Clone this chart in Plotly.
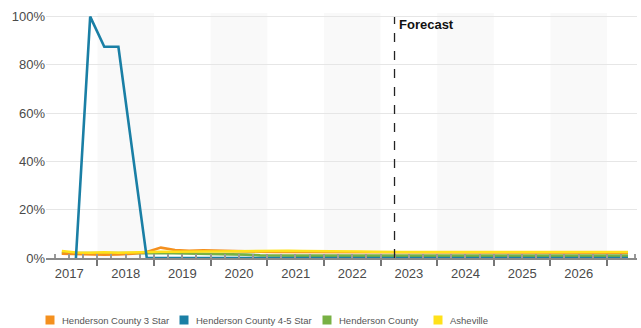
import plotly.graph_objects as go
import pandas as pd

# quarterly periods, Q2 2017 .. Q2 2027 (points at mid-quarter)
quarters = pd.period_range("2017Q2", "2027Q2", freq="Q")
dates = [(q.start_time + (q.end_time - q.start_time) / 2).strftime("%Y-%m-%d") for q in quarters]

series_names = ["Henderson County 3 Star", "Henderson County 4-5 Star", "Henderson County", "Asheville"]
colors = ["#F4901E", "#1A7FA5", "#78B144", "#FFE11A"]

hc3 = [1.8, 1.6, 1.5, 1.4, 1.5, 1.8, 2.5, 4.3, 3.3, 3.0, 3.2, 3.0, 2.7, 2.6, 2.6, 2.5,
       2.5, 2.4, 2.4, 2.3, 2.3, 2.2, 2.2, 2.2, 2.2, 2.2, 2.2, 2.2, 2.2, 2.2, 2.2, 2.2,
       2.2, 2.2, 2.2, 2.2, 2.2, 2.2, 2.2, 2.2, 2.2]
hc45 = [None, 0, 100, 87.5, 87.5, 43.75, 0, 0, 0, 0, 0, 0, 0, 0, 0, 0,
        0, 0, 0, 0, 0, 0, 0, 0, 0, 0, 0, 0, 0, 0, 0, 0,
        0, 0, 0, 0, 0, 0, 0, 0, 0]
hc = [2.0, 2.1, 2.1, 2.0, 2.0, 1.9, 2.0, 2.1, 2.0, 1.9, 1.8, 1.8, 1.7, 1.4, 1.1, 1.0,
      1.0, 1.0, 1.0, 1.0, 1.0, 1.0, 1.0, 1.0, 1.0, 1.0, 1.0, 1.0, 1.0, 1.0, 1.0, 1.0,
      1.0, 1.0, 1.0, 1.0, 1.0, 1.0, 1.0, 1.0, 1.0]
ash = [2.9, 2.3, 2.2, 2.4, 2.2, 2.4, 2.3, 2.6, 2.6, 2.5, 2.7, 2.7, 2.8, 2.9, 2.8, 3.0,
       3.0, 2.9, 2.9, 3.0, 2.9, 2.7, 2.6, 2.4, 2.5, 2.5, 2.5, 2.5, 2.5, 2.5, 2.5, 2.5,
       2.5, 2.5, 2.5, 2.5, 2.5, 2.5, 2.5, 2.5, 2.5]
values = [hc3, hc45, hc, ash]

y_ticks = [0, 20, 40, 60, 80, 100]
y_ticktext = ["0%", "20%", "40%", "60%", "80%", "100%"]

band_years = [2018, 2020, 2022, 2024, 2026]
forecast_date = "2023-04-01"
forecast_label = "Forecast"

# plot-area geometry (pixels) used to place the hand-made legend
W, H = 641, 328
ML, MR, MT, MB = 46, 4, 13, 70
PW, PH = W - ML - MR, H - MT - MB
legend_marker_px = [50, 184, 327, 438]
legend_y_px = 320


def fx(px):
    return (px - ML) / PW


def fy(py):
    return (H - MB - py) / PH


fig = go.Figure()
draw_order = [2, 0, 3, 1]
for i in draw_order:
    fig.add_trace(go.Scatter(x=dates, y=values[i], mode="lines", name=series_names[i],
                             line=dict(color=colors[i], width=2.6), showlegend=False,
                             hoverinfo="skip"))

for y in band_years:
    fig.add_vrect(x0=f"{y}-01-01", x1=f"{y+1}-01-01", fillcolor="rgba(0,0,0,0.022)",
                  line_width=0, layer="below")

fig.add_shape(type="line", x0=forecast_date, x1=forecast_date, y0=0, y1=fy(17), yref="paper",
              line=dict(color="#222", width=1.3, dash="dash"))
fig.add_annotation(x=forecast_date, y=fy(15), yref="paper", text="<b>" + forecast_label + "</b>",
                   showarrow=False, xanchor="left", yanchor="top", xshift=2,
                   font=dict(family="Liberation Sans, Arial", size=13, color="#111"))

# legend: coloured squares + labels
for i, name in enumerate(series_names):
    xm = fx(legend_marker_px[i])
    ym = fy(legend_y_px)
    fig.add_shape(type="rect", xref="paper", yref="paper",
                  xsizemode="pixel", ysizemode="pixel", xanchor=xm, yanchor=ym,
                  x0=-4.5, x1=4.5, y0=-4.5, y1=4.5,
                  fillcolor=colors[i], line_width=0)
    fig.add_annotation(xref="paper", yref="paper", x=xm, y=ym, xshift=10,
                       text=name, showarrow=False, xanchor="left", yanchor="middle",
                       font=dict(family="Liberation Sans, Arial", size=9.5, color="#555"))

fig.update_layout(
    width=W, height=H,
    margin=dict(l=ML, r=MR, t=MT, b=MB),
    paper_bgcolor="white", plot_bgcolor="white",
    font=dict(family="Liberation Sans, Arial", size=13, color="#555"),
    showlegend=False,
)
fig.update_xaxes(type="date", range=["2017-02-03", "2027-07-13"], dtick="M12",
                 tick0="2017-01-01", tickformat="%Y", ticklabelmode="period",
                 showgrid=False, showline=True, linecolor="#8a8a8a", linewidth=1.5,
                 ticks="outside", ticklen=6, tickcolor="#777", tickwidth=1.5,
                 ticklabelstandoff=-3,
                 tickfont=dict(size=13, color="#4a4a4a"),
                 minor=dict(dtick="M3", ticks="inside", ticklen=4, tickcolor="#999", showgrid=False),
                 zeroline=False)
fig.update_yaxes(range=[0, 101.5], tickmode="array", tickvals=y_ticks, ticktext=y_ticktext,
                 showgrid=True, gridcolor="#e6e6e6", gridwidth=1, zeroline=False,
                 tickfont=dict(size=13, color="#4a4a4a"), ticks="", showline=False)

fig.write_html("out.html")
